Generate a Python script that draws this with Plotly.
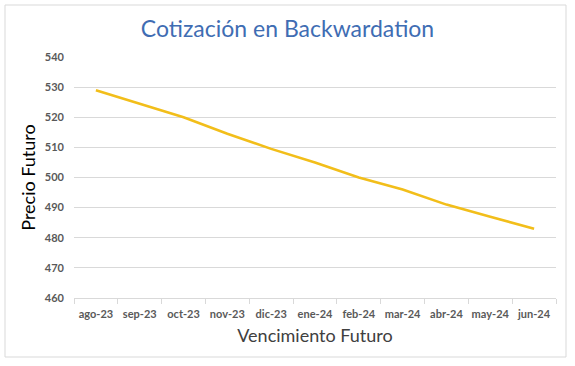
import plotly.graph_objects as go

categories = ["ago-23", "sep-23", "oct-23", "nov-23", "dic-23", "ene-24",
              "feb-24", "mar-24", "abr-24", "may-24", "jun-24"]
prices = [529, 524.5, 520, 514.5, 509.5, 505, 500, 496, 491, 487, 483]
y_ticks = [460, 470, 480, 490, 500, 510, 520, 530, 540]

W, H = 575, 366
ml, mr, mt, mb = 74, 19, 57, 68

fig = go.Figure()
fig.add_trace(go.Scatter(x=categories, y=prices, mode="lines",
                         line=dict(color="#F2BE1A", width=2.6),
                         showlegend=False))

fig.update_layout(
    width=W, height=H,
    margin=dict(l=ml, r=mr, t=mt, b=mb, autoexpand=False),
    paper_bgcolor="white", plot_bgcolor="white",
    title=dict(text="Cotización en Backwardation", x=0.5, xanchor="center",
               y=1 - 29 / H, yanchor="middle",
               font=dict(family="Lato", size=23, color="#3F6DB3")),
    xaxis=dict(type="category", range=[-0.5, len(categories) - 0.5],
               showgrid=False, showline=True, automargin=False,
               linecolor="#D9D9D9", linewidth=1, tickangle=0,
               ticks="outside", tickson="boundaries", ticklen=5,
               tickcolor="#D9D9D9", ticklabelstandoff=6,
               tickfont=dict(family="Lato", size=11, color="#595959", weight="bold"),
               title=dict(text="Vencimiento Futuro", standoff=10,
                          font=dict(family="Lato", size=18, color="#404040"))),
    yaxis=dict(range=[460, 540], tickvals=y_ticks, showgrid=True,
               gridcolor="#D9D9D9", gridwidth=1, zeroline=False, automargin=False,
               showline=False, ticks="", ticklabelstandoff=9,
               tickfont=dict(family="Lato", size=11, color="#595959", weight="bold"),
               title=dict(text="Precio Futuro", standoff=4,
                          font=dict(family="Lato", size=18, color="#000000"))),
)

# outer chart border
fig.add_shape(type="rect", xref="paper", yref="paper",
              x0=(5 - ml) / (W - ml - mr), x1=(566 - ml) / (W - ml - mr),
              y0=(H - mb - 357) / (H - mt - mb), y1=(H - mb - 5) / (H - mt - mb),
              line=dict(color="#D9D9D9", width=1), layer="below")

fig.write_html("out.html")
